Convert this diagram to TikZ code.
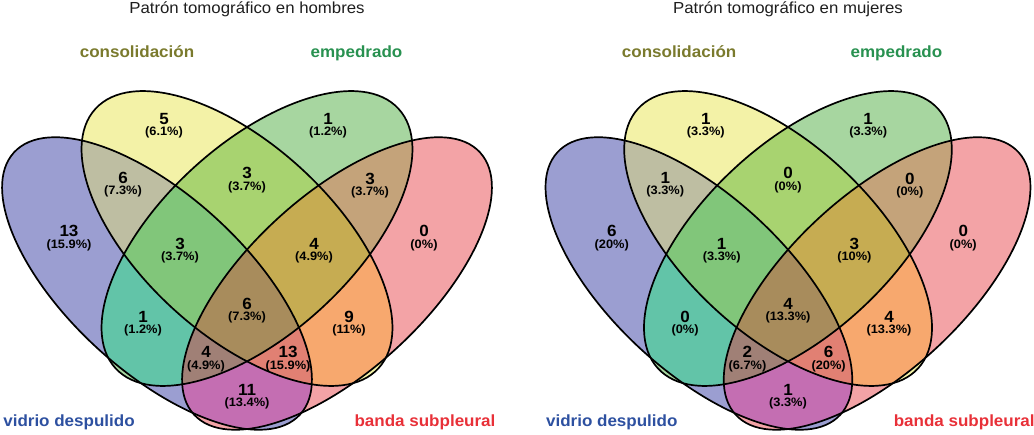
\documentclass[tikz,border=0pt]{standalone}
\usepackage{fontspec}
\setmainfont{Liberation Sans}[FakeStretch=1.05]
\definecolor{cB}{RGB}{155,158,209}
\definecolor{cY}{RGB}{243,242,167}
\definecolor{cG}{RGB}{167,214,160}
\definecolor{cR}{RGB}{243,163,166}
\definecolor{cBY}{RGB}{190,190,162}
\definecolor{cYG}{RGB}{168,211,112}
\definecolor{cGR}{RGB}{196,163,122}
\definecolor{cBG}{RGB}{98,196,168}
\definecolor{cYR}{RGB}{247,168,110}
\definecolor{cBR}{RGB}{196,110,178}
\definecolor{cBYG}{RGB}{129,198,122}
\definecolor{cYGR}{RGB}{198,172,82}
\definecolor{cBGR}{RGB}{160,128,118}
\definecolor{cBYR}{RGB}{225,128,115}
\definecolor{cBYGR}{RGB}{168,140,92}
\definecolor{labB}{RGB}{45,80,160}
\definecolor{labY}{RGB}{122,122,45}
\definecolor{labG}{RGB}{40,145,80}
\definecolor{labR}{RGB}{232,48,56}
\definecolor{ttlc}{RGB}{30,30,30}
\newcommand\clB{\clip[shift={(-90,150.5)},rotate=-42.5] (0,0) ellipse [x radius=194, y radius=88];}
\newcommand\clY{\clip[shift={(-10,195.5)},rotate=-42.5] (0,0) ellipse [x radius=192, y radius=95];}
\newcommand\clG{\clip[shift={(10,195.5)},rotate=42.5] (0,0) ellipse [x radius=192, y radius=95];}
\newcommand\clR{\clip[shift={(90,150.5)},rotate=42.5] (0,0) ellipse [x radius=194, y radius=88];}
\newcommand\paintreg[2]{\begin{scope}#1\fill[#2] (-260,-5) rectangle (260,440);\end{scope}}
\newcommand\vennbody{%
  \paintreg{\clB}{cB}\paintreg{\clY}{cY}\paintreg{\clG}{cG}\paintreg{\clR}{cR}%
  \paintreg{\clB\clY}{cBY}\paintreg{\clY\clG}{cYG}\paintreg{\clG\clR}{cGR}%
  \paintreg{\clB\clG}{cBG}\paintreg{\clY\clR}{cYR}\paintreg{\clB\clR}{cBR}%
  \paintreg{\clB\clY\clG}{cBYG}\paintreg{\clY\clG\clR}{cYGR}%
  \paintreg{\clB\clG\clR}{cBGR}\paintreg{\clB\clY\clR}{cBYR}%
  \paintreg{\clB\clY\clG\clR}{cBYGR}%
  \draw[outl,shift={(-90,150.5)},rotate=-42.5] (0,0) ellipse [x radius=194, y radius=88];
  \draw[outl,shift={(-10,195.5)},rotate=-42.5] (0,0) ellipse [x radius=192, y radius=95];
  \draw[outl,shift={(10,195.5)},rotate=42.5] (0,0) ellipse [x radius=192, y radius=95];
  \draw[outl,shift={(90,150.5)},rotate=42.5] (0,0) ellipse [x radius=194, y radius=88];
}
\newcommand\cnt[5]{\node[num] (#1) at (#2,#3) {#4};\node[pct] (#1p) at (#2,#3-13.7) {(#5)};}
\tikzset{
  outl/.style={draw=black, line width=1.7pt},
  num/.style={font=\fontsize{16.2}{16}\selectfont\bfseries, inner sep=0pt},
  pct/.style={font=\fontsize{12.2}{12}\selectfont\bfseries, inner sep=0pt},
  catlab/.style={font=\fontsize{16.2}{17}\selectfont\bfseries, anchor=base, inner sep=0pt},
  ttl/.style={font=\fontsize{16}{17}\selectfont, text=ttlc, anchor=base, inner sep=0pt}
}
\begin{document}
\begin{tikzpicture}[x=1pt,y=1pt]
\useasboundingbox (0,0) rectangle (1034,434);
% ---------------- left panel: hombres
\begin{scope}[shift={(247,0)}]
  \vennbody
  \node[ttl] (htitle) at (0,420.5) {Patrón tomográfico en hombres};
  \node[catlab, text=labY] (hcatY) at (-110,376.8) {consolidación};
  \node[catlab, text=labG] (hcatG) at (109.5,376.8) {empedrado};
  \node[catlab, text=labB] (hcatB) at (-178,7.5) {vidrio despulido};
  \node[catlab, text=labR] (hcatR) at (178,7.5) {banda subpleural};
  \cnt{hB}{-178}{202.8}{13}{15.9\%}
  \cnt{hY}{-83}{315.3}{5}{6.1\%}
  \cnt{hG}{81}{315.3}{1}{1.2\%}
  \cnt{hR}{177}{202.8}{0}{0\%}
  \cnt{hBY}{-124}{256}{6}{7.3\%}
  \cnt{hYG}{0}{260.7}{3}{3.7\%}
  \cnt{hGR}{123}{255.3}{3}{3.7\%}
  \cnt{hBYG}{-67}{190.3}{3}{3.7\%}
  \cnt{hYGR}{67}{190.3}{4}{4.9\%}
  \cnt{hBG}{-104}{117.3}{1}{1.2\%}
  \cnt{hYR}{102}{117.3}{9}{11\%}
  \cnt{hBYGR}{0}{130}{6}{7.3\%}
  \cnt{hBGR}{-41}{81.7}{4}{4.9\%}
  \cnt{hBYR}{41}{81.7}{13}{15.9\%}
  \cnt{hBR}{0}{44.3}{11}{13.4\%}
\end{scope}
% ---------------- right panel: mujeres
\begin{scope}[shift={(788,0)}, xscale=0.99]
  \vennbody
  \node[ttl] (mtitle) at (0,420.5) {Patrón tomográfico en mujeres};
  \node[catlab, text=labY] (mcatY) at (-110,376.8) {consolidación};
  \node[catlab, text=labG] (mcatG) at (109.5,376.8) {empedrado};
  \node[catlab, text=labB] (mcatB) at (-178,7.5) {vidrio despulido};
  \node[catlab, text=labR] (mcatR) at (178,7.5) {banda subpleural};
  \cnt{mB}{-178}{202.8}{6}{20\%}
  \cnt{mY}{-83}{315.3}{1}{3.3\%}
  \cnt{mG}{81}{315.3}{1}{3.3\%}
  \cnt{mR}{177}{202.8}{0}{0\%}
  \cnt{mBY}{-124}{256}{1}{3.3\%}
  \cnt{mYG}{0}{260.7}{0}{0\%}
  \cnt{mGR}{123}{255.3}{0}{0\%}
  \cnt{mBYG}{-67}{190.3}{1}{3.3\%}
  \cnt{mYGR}{67}{190.3}{3}{10\%}
  \cnt{mBG}{-104}{117.3}{0}{0\%}
  \cnt{mYR}{102}{117.3}{4}{13.3\%}
  \cnt{mBYGR}{0}{130}{4}{13.3\%}
  \cnt{mBGR}{-41}{81.7}{2}{6.7\%}
  \cnt{mBYR}{41}{81.7}{6}{20\%}
  \cnt{mBR}{0}{44.3}{1}{3.3\%}
\end{scope}
\end{tikzpicture}
\end{document}
